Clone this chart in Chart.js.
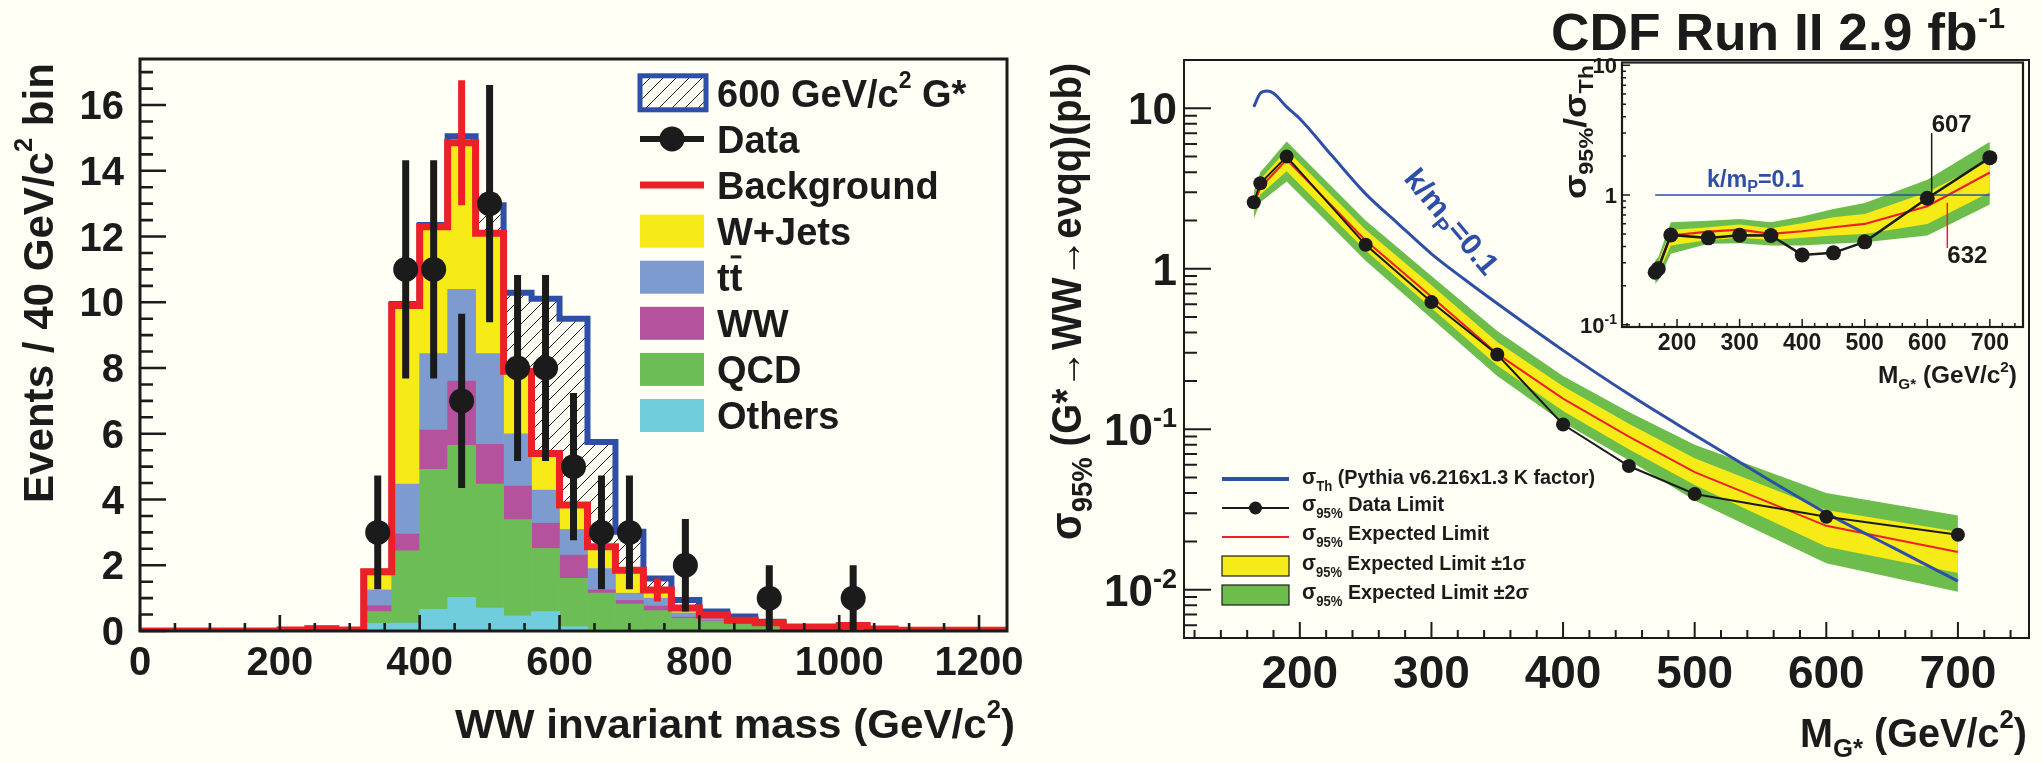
<!DOCTYPE html>
<html><head><meta charset="utf-8"><title>CDF G* to WW search</title>
<script src="https://cdn.jsdelivr.net/npm/chart.js@4.4.1/dist/chart.umd.min.js"></script>
<style>
html,body{margin:0;padding:0;background:#fffff6;}
#wrap{position:relative;width:2042px;height:763px;overflow:hidden;background:#fffff6;}
canvas{position:absolute;display:block;}
</style></head><body>
<div id="wrap">
<canvas id="left" width="1040" height="763" style="left:0;top:0;width:1040px;height:763px"></canvas>
<canvas id="main" width="1002" height="763" style="left:1040px;top:0;width:1002px;height:763px"></canvas>
<canvas id="inset" width="497" height="340" style="left:1545px;top:55px;width:497px;height:340px"></canvas>
</div>
<script>
// ================= LEFT PANEL DATA (WW invariant mass, 40 GeV bins) =================
const binCenters = [20,60,100,140,180,220,260,300,340,380,420,460,500,540,580,620,660,700,740,780,820,860,900,940,980,1020,1060,1100,1140,1180,1220];
const binWidth = 40;
const others = [0,0,0,0,0,0,0,0, 0.23,0.24,0.66,1.02,0.70,0.46,0.59,0.13,0.05,0.05,0.03,0.02,0.01,0.01,0.01, 0,0,0,0,0,0,0,0];
const qcd    = [0,0,0,0,0, 0.02,0.05,0.02, 0.36,2.20,4.26,4.63,3.77,2.93,1.92,1.47,1.10,0.77,0.59,0.36,0.28,0.19,0.14,0.10,0.10,0.12,0.05,0.02,0.02,0.02,0.02];
const ww     = [0,0,0,0,0,0,0,0, 0.18,0.51,1.19,1.95,1.21,1.02,0.77,0.71,0.10,0.11,0.14,0.04,0.02,0.02,0.01, 0,0,0,0,0,0,0,0];
const ttbar  = [0,0,0,0,0, 0.01,0.01,0.01, 0.48,1.52,2.33,2.79,2.76,1.59,1.01,0.78,0.65,0.22,0.24,0.13,0.10,0.06,0.05,0.02,0.02,0.04,0.01, 0,0,0,0];
const wjets  = [0,0,0,0,0, 0,0.01,0, 0.55,5.43,3.86,4.46,3.66,1.90,1.11,0.74,0.66,0.70,0.25,0.15,0.08,0.05,0.04, 0,0,0.01, 0,0,0,0,0];
const gstar600 = [0,0,0,0,0,0,0,0,0, 0.05,0.05,0.20,0.85,2.39,4.71,5.67,3.19,1.17,0.35,0.24,0.10,0.11,0.03, 0,0,0,0,0,0,0,0];
const dataMass   = [340,380,420,460,500,540,580,620,660,700,780,900,1020];
const dataEvents = [3,11,11,7,13,8,8,5,3,3,2,1,1];
const dataErr    = [1.73,3.32,3.32,2.65,3.61,2.83,2.83,2.24,1.73,1.73,1.41,1.0,1.0];
const bkgErrMass = [460,740];
const bkgErr     = [1.9,0.35];
const leftXTicks = [0,200,400,600,800,1000,1200];
const leftYTicks = [0,2,4,6,8,10,12,14,16];

// ================= RIGHT PANEL DATA (cross-section limits) =================
const limMass  = [165,170,190,250,300,350,400,450,500,600,700];
const obsLimit = [2.6,3.41,5.0,1.41,0.62,0.292,0.107,0.059,0.0395,0.0285,0.022];
const expLimit = [2.5,3.2,4.8,1.5,0.67,0.295,0.155,0.09,0.054,0.025,0.0172];
const exp1Lo   = [2.25,2.9,4.05,1.3,0.57,0.25,0.13,0.075,0.045,0.0185,0.0127];
const exp1Hi   = [2.75,3.6,5.5,1.75,0.79,0.35,0.185,0.108,0.066,0.0314,0.023];
const exp2Lo   = [2.05,2.6,3.5,1.12,0.49,0.215,0.11,0.064,0.036,0.0146,0.0097];
const exp2Hi   = [3.0,4.0,6.2,2.0,0.9,0.41,0.215,0.128,0.080,0.040,0.029];
const thMass   = [165,170,175,180,190,200,225,250,275,300,325,350,400,450,500,550,600,650,700];
const thXsec   = [10.2,12.4,12.8,12.4,10.2,8.6,5.0,2.93,1.9,1.24,0.86,0.607,0.31,0.165,0.092,0.052,0.030,0.0184,0.0113];
const rightXTicks = [200,300,400,500,600,700];
const rightYTicks = [0.01,0.1,1,10];

// ================= INSET DATA (ratio to theory) =================
const insObs = [0.254,0.27,0.492,0.467,0.49,0.487,0.345,0.358,0.435,0.943,1.94];
const insExp = [0.262,0.278,0.487,0.522,0.541,0.501,0.525,0.564,0.598,0.818,1.49];
const ins1Lo = [0.232,0.247,0.408,0.45,0.467,0.45,0.467,0.487,0.501,0.598,1.05];
const ins1Hi = [0.286,0.304,0.538,0.564,0.591,0.554,0.605,0.673,0.714,1.05,1.84];
const ins2Lo = [0.207,0.219,0.352,0.42,0.425,0.408,0.408,0.42,0.432,0.487,0.843];
const ins2Hi = [0.313,0.331,0.616,0.634,0.654,0.616,0.681,0.78,0.868,1.31,2.57];
const insThMass = [165,700];
const insThRatio = [1,1];
const insetYTicks = [0.1,1,10];
const crossObs = 607, crossExp = 632;

// ================= STYLE =================
const INK = '#1b1b1b', BG = '#fffff6';
const C = {yellow:'#f6eb16', tt:'#7e9bd0', ww:'#b5529e', qcd:'#6cbd55', oth:'#6fcddd',
           red:'#ee2027', blue:'#2f4ea6', green:'#6cbd4b'};
const FF = '"Liberation Sans", Arial, Helvetica, sans-serif';
function fnt(size, weight){ return (weight || 'bold') + ' ' + size + 'px ' + FF; }
function rich(ctx, segs, x, y, o){
  o = o || {};
  ctx.save();
  const ws = []; let total = 0;
  segs.forEach(s => { ctx.font = fnt(s.size, s.weight || o.weight); const w = ctx.measureText(s.t).width; ws.push(w); total += w; });
  const sx = o.width ? o.width / total : 1;
  ctx.translate(x, y);
  if (o.rot) ctx.rotate(o.rot);
  ctx.scale(sx, 1);
  let cx = o.align === 'right' ? -total : (o.align === 'center' ? -total/2 : 0);
  ctx.fillStyle = o.color || INK; ctx.textAlign = 'left'; ctx.textBaseline = 'alphabetic';
  segs.forEach((s, i) => { ctx.font = fnt(s.size, s.weight || o.weight); ctx.fillText(s.t, cx, s.dy || 0); cx += ws[i]; });
  ctx.restore();
  return total * sx;
}
function logLabel(v, size){
  const e = Math.round(Math.log10(v));
  if (e === 0) return [{t:'1', size}];
  if (e === 1) return [{t:'10', size}];
  return [{t:'10', size}, {t:String(e), size: Math.round(size*0.62), dy: -Math.round(size*0.42)}];
}
function logMinors(min, max){
  const out = [];
  for (let e = -4; e <= 3; e++) for (let m = 2; m <= 9; m++) { const v = m * Math.pow(10, e); if (v > min && v < max) out.push(v); }
  return out;
}
const pts = (xs, ys) => xs.map((x, i) => ({x, y: ys[i]}));

// hatch pattern
function makeHatch(){
  const c = document.createElement('canvas'); c.width = 13; c.height = 13;
  const g = c.getContext('2d');
  g.strokeStyle = '#222'; g.lineWidth = 1;
  g.beginPath(); g.moveTo(-1,14); g.lineTo(14,-1); g.moveTo(-7,7); g.lineTo(7,-7); g.moveTo(6,20); g.lineTo(20,6); g.stroke();
  return g.createPattern(c, 'repeat');
}

// ================= LEFT CHART =================
(function(){
  const ctxL = document.getElementById('left').getContext('2d');
  const hatch = makeHatch();
  const bkgTotal = binCenters.map((_, i) => others[i] + qcd[i] + ww[i] + ttbar[i] + wjets[i]);
  const edgePts = vals => {
    const p = binCenters.map((c, i) => ({x: c - binWidth/2, y: vals[i]}));
    p.push({x: binCenters[binCenters.length-1] + binWidth/2, y: vals[vals.length-1]});
    return p;
  };
  const barDs = (label, arr, color) => ({type:'bar', label, data: binCenters.map((c, i) => ({x: c, y: arr[i] || null})),
    backgroundColor: color, borderWidth: 0, barPercentage: 1, categoryPercentage: 1, yAxisID: 'y', order: 20});
  const errSegs = (xs, ys, es) => { const out = []; xs.forEach((x, i) => { out.push({x, y: ys[i] - es[i]}, {x, y: ys[i] + es[i]}, {x, y: null}); }); return out; };
  const bkgAt = m => bkgTotal[binCenters.indexOf(m)];

  new Chart(ctxL, {
    type: 'bar',
    data: { datasets: [
      barDs('Others', others, C.oth),
      barDs('QCD', qcd, C.qcd),
      barDs('WW', ww, C.ww),
      barDs('tt', ttbar, C.tt),
      barDs('W+Jets', wjets, C.yellow),
      {type:'line', label:'600 GeV/c2 G*', data: edgePts(bkgTotal.map((b, i) => b + gstar600[i])), stepped: true,
        borderColor: C.blue, borderWidth: 6, pointRadius: 0, fill: 6, backgroundColor: hatch, yAxisID: 'y2', order: 6,
        borderJoinStyle: 'miter', borderCapStyle: 'butt'},
      {type:'line', label:'Background', data: edgePts(bkgTotal), stepped: true, borderColor: C.red, borderWidth: 7,
        pointRadius: 0, fill: false, yAxisID: 'y2', order: 5, borderJoinStyle: 'miter', borderCapStyle: 'butt'},
      {type:'line', label:'bkg err', data: errSegs(bkgErrMass, bkgErrMass.map(bkgAt), bkgErr), borderColor: C.red,
        borderWidth: 7, pointRadius: 0, spanGaps: false, fill: false, yAxisID: 'y2', order: 4, borderCapStyle: 'butt'},
      {type:'line', label:'data err', data: errSegs(dataMass, dataEvents, dataErr), borderColor: INK,
        borderWidth: 7, pointRadius: 0, spanGaps: false, fill: false, yAxisID: 'y2', order: 3, borderCapStyle: 'butt'},
      {type:'line', label:'Data', data: pts(dataMass, dataEvents), showLine: false, pointRadius: 12.5,
        pointBackgroundColor: INK, pointBorderWidth: 0, yAxisID: 'y2', order: 2}
    ]},
    options: {
      responsive: false, animation: false, devicePixelRatio: 1, events: [],
      layout: {padding: {left: 140, top: 59, right: 33, bottom: 132}},
      plugins: {legend: {display: false}, tooltip: {enabled: false}},
      scales: {
        x: {type: 'linear', min: 0, max: 1240, stacked: true, offset: false, display: false, ticks: {stepSize: 40}},
        y: {type: 'linear', min: 0, max: 17.4, stacked: true, display: false},
        y2: {type: 'linear', min: 0, max: 17.4, display: false}
      }
    },
    plugins: [{
      id: 'leftDecor',
      afterDraw(chart){
        const ctx = chart.ctx, a = chart.chartArea, X = chart.scales.x, Y = chart.scales.y;
        ctx.save();
        ctx.strokeStyle = INK; ctx.lineWidth = 2.6; ctx.beginPath();
        leftYTicks.forEach(v => { const p = Y.getPixelForValue(v); ctx.moveTo(a.left, p); ctx.lineTo(a.left + 26, p); });
        for (let k = 1; k * 0.5 <= Y.max; k++) { if (k % 4 === 0) continue; const p = Y.getPixelForValue(k*0.5); ctx.moveTo(a.left, p); ctx.lineTo(a.left + 13, p); }
        leftXTicks.forEach(v => { const p = X.getPixelForValue(v); ctx.moveTo(p, a.bottom); ctx.lineTo(p, a.bottom - 16); });
        for (let k = 1; k * 50 < X.max; k++) { if (k % 4 === 0) continue; const p = X.getPixelForValue(k*50); ctx.moveTo(p, a.bottom); ctx.lineTo(p, a.bottom - 8); }
        ctx.stroke();
        ctx.lineWidth = 3; ctx.strokeRect(a.left, a.top, a.right - a.left, a.bottom - a.top);
        ctx.restore();
        leftYTicks.forEach(v => rich(ctx, [{t: String(v), size: 40}], a.left - 16, Y.getPixelForValue(v) + 14, {align: 'right'}));
        leftXTicks.forEach(v => rich(ctx, [{t: String(v), size: 40}], X.getPixelForValue(v), 675, {align: 'center'}));
        rich(ctx, [{t:'WW invariant mass (GeV/c', size: 41}, {t:'2', size: 25, dy: -20}, {t:')', size: 41}], 1015, 738, {align: 'right', width: 560});
        rich(ctx, [{t:'Events / 40 GeV/c', size: 43}, {t:'2', size: 26, dy: -21}, {t:' bin', size: 43}], 53, 63, {align: 'right', rot: -Math.PI/2, width: 440});
        // legend
        const lx = 640, lw = 64, tx = 717;
        const rows = [0,1,2,3,4,5,6,7].map(i => 92.8 + 46.1 * i);
        ctx.save();
        ctx.fillStyle = hatch; ctx.fillRect(lx, rows[0]-17, lw+2, 34);
        ctx.strokeStyle = C.blue; ctx.lineWidth = 5; ctx.strokeRect(lx, rows[0]-17, lw+2, 34);
        ctx.strokeStyle = INK; ctx.lineWidth = 6; ctx.beginPath(); ctx.moveTo(lx, rows[1]); ctx.lineTo(lx+lw, rows[1]); ctx.stroke();
        ctx.fillStyle = INK; ctx.beginPath(); ctx.arc(lx + lw/2, rows[1], 12.5, 0, 2*Math.PI); ctx.fill();
        ctx.strokeStyle = C.red; ctx.lineWidth = 7; ctx.beginPath(); ctx.moveTo(lx, rows[2]); ctx.lineTo(lx+lw, rows[2]); ctx.stroke();
        [C.yellow, C.tt, C.ww, C.qcd, C.oth].forEach((col, i) => { ctx.fillStyle = col; ctx.fillRect(lx, rows[3+i]-16.5, lw, 33); });
        ctx.restore();
        const lab = [
          [{t:'600 GeV/c', size:38}, {t:'2', size:23, dy:-19}, {t:' G*', size:38}],
          [{t:'Data', size:38}], [{t:'Background', size:38}], [{t:'W+Jets', size:38}], [{t:'tt', size:38}],
          [{t:'WW', size:38}], [{t:'QCD', size:38}], [{t:'Others', size:38}]
        ];
        lab.forEach((s, i) => rich(ctx, s, tx, rows[i] + 13.7, {}));
        ctx.save(); ctx.font = fnt(38); const wt = ctx.measureText('t').width;
        ctx.strokeStyle = INK; ctx.lineWidth = 3; ctx.beginPath();
        ctx.moveTo(tx + wt + 1, rows[4] + 13.7 - 34); ctx.lineTo(tx + 2*wt - 1, rows[4] + 13.7 - 34); ctx.stroke(); ctx.restore();
      }
    }]
  });
})();

// ================= MAIN RIGHT CHART =================
(function(){
  const OX = 1040;
  const ctxM = document.getElementById('main').getContext('2d');
  const band = (ys, color, fill, order) => ({data: pts(limMass, ys), fill: fill, backgroundColor: color, borderColor: 'transparent', borderWidth: 0, pointRadius: 0, order});
  new Chart(ctxM, {
    type: 'line',
    data: { datasets: [
      band(exp2Hi, C.green, '+1', 10),
      band(exp2Lo, C.green, false, 10),
      band(exp1Hi, C.yellow, '+1', 9),
      band(exp1Lo, C.yellow, false, 9),
      {label:'Expected', data: pts(limMass, expLimit), borderColor: C.red, borderWidth: 2, pointRadius: 0, fill: false, order: 8},
      {label:'Theory', data: pts(thMass, thXsec), borderColor: C.blue, borderWidth: 3, pointRadius: 0, fill: false, cubicInterpolationMode: 'monotone', order: 7},
      {label:'Observed', data: pts(limMass, obsLimit), borderColor: INK, borderWidth: 2, pointRadius: 7, pointBackgroundColor: INK, pointBorderWidth: 0, fill: false, order: 6}
    ]},
    options: {
      responsive: false, animation: false, devicePixelRatio: 1, events: [],
      layout: {padding: {left: 144, top: 60, right: 13, bottom: 125}},
      plugins: {legend: {display: false}, tooltip: {enabled: false}},
      scales: {
        x: {type: 'linear', min: 112, max: 754, display: false},
        y: {type: 'logarithmic', min: 0.005, max: 20, display: false}
      }
    },
    plugins: [{
      id: 'mainDecor',
      afterDraw(chart){
        const ctx = chart.ctx, a = chart.chartArea, X = chart.scales.x, Y = chart.scales.y;
        ctx.save();
        ctx.strokeStyle = INK; ctx.lineWidth = 2; ctx.beginPath();
        rightYTicks.forEach(v => { const p = Y.getPixelForValue(v); ctx.moveTo(a.left, p); ctx.lineTo(a.left + 27, p); });
        logMinors(Y.min, Y.max).forEach(v => { const p = Y.getPixelForValue(v); ctx.moveTo(a.left, p); ctx.lineTo(a.left + 13, p); });
        rightXTicks.forEach(v => { const p = X.getPixelForValue(v); ctx.moveTo(p, a.bottom); ctx.lineTo(p, a.bottom - 16); });
        for (let v = 120; v < X.max; v += 20) { if (v % 100 === 0) continue; const p = X.getPixelForValue(v); ctx.moveTo(p, a.bottom); ctx.lineTo(p, a.bottom - 8); }
        ctx.stroke();
        ctx.lineWidth = 2; ctx.strokeRect(a.left, a.top, a.right - a.left, a.bottom - a.top);
        ctx.restore();
        rightYTicks.forEach(v => rich(ctx, logLabel(v, 44), a.left - 7, Y.getPixelForValue(v) + 16, {align: 'right'}));
        rightXTicks.forEach(v => rich(ctx, [{t: String(v), size: 46}], X.getPixelForValue(v), 688, {align: 'center'}));
        // title
        rich(ctx, [{t:'CDF Run II 2.9 fb', size: 52}, {t:'-1', size: 30, dy: -22}], 1551 - OX, 50, {width: 454});
        // axis titles
        rich(ctx, [{t:'M', size: 40}, {t:'G*', size: 26, dy: 10}, {t:' (GeV/c', size: 40}, {t:'2', size: 26, dy: -19}, {t:')', size: 40}], 2027 - OX, 747, {align: 'right', width: 227});
        rich(ctx, [{t:'\u03c3', size: 44}, {t:'95%', size: 30, dy: 11}, {t:' (G*\u2192WW\u2192e\u03bdqq)(pb)', size: 42}], 1081 - OX, 63, {align: 'right', rot: -Math.PI/2, width: 477});
        // curve label
        rich(ctx, [{t:'k/m', size: 30}, {t:'P', size: 21, dy: 8}, {t:'=0.1', size: 30}], 1444 - OX, 228, {align: 'center', rot: 50 * Math.PI/180, color: C.blue, width: 128});
        // legend
        const sx0 = 1222 - OX, sx1 = 1289 - OX, tx = 1302 - OX;
        const cy = [479, 508, 537, 566, 595];
        ctx.save();
        ctx.lineCap = 'butt';
        ctx.strokeStyle = C.blue; ctx.lineWidth = 4; ctx.beginPath(); ctx.moveTo(sx0, cy[0]); ctx.lineTo(sx1, cy[0]); ctx.stroke();
        ctx.strokeStyle = INK; ctx.lineWidth = 2; ctx.beginPath(); ctx.moveTo(sx0, cy[1]); ctx.lineTo(sx1, cy[1]); ctx.stroke();
        ctx.fillStyle = INK; ctx.beginPath(); ctx.arc((sx0 + sx1)/2, cy[1], 6.5, 0, 2*Math.PI); ctx.fill();
        ctx.strokeStyle = C.red; ctx.lineWidth = 2; ctx.beginPath(); ctx.moveTo(sx0, cy[2]); ctx.lineTo(sx1, cy[2]); ctx.stroke();
        ctx.fillStyle = C.yellow; ctx.fillRect(sx0, cy[3] - 10, sx1 - sx0, 20);
        ctx.fillStyle = C.green; ctx.fillRect(sx0, cy[4] - 10, sx1 - sx0, 20);
        ctx.strokeStyle = INK; ctx.lineWidth = 1.2; ctx.strokeRect(sx0, cy[3] - 10, sx1 - sx0, 20); ctx.strokeRect(sx0, cy[4] - 10, sx1 - sx0, 20);
        ctx.restore();
        const sig = sub => [{t:'\u03c3', size: 22}, {t: sub, size: 14, dy: 7}];
        rich(ctx, sig('Th').concat([{t:' (Pythia v6.216x1.3 K factor)', size: 21}]), tx, 484, {width: 293});
        rich(ctx, sig('95%').concat([{t:' Data Limit', size: 21}]), tx, 511, {width: 142});
        rich(ctx, sig('95%').concat([{t:' Expected Limit', size: 21}]), tx, 540, {width: 187});
        rich(ctx, sig('95%').concat([{t:' Expected Limit \u00b11\u03c3', size: 21}]), tx, 570, {width: 224});
        rich(ctx, sig('95%').concat([{t:' Expected Limit \u00b12\u03c3', size: 21}]), tx, 599, {width: 227});
      }
    }]
  });
})();

// ================= INSET CHART =================
(function(){
  const OX = 1545, OY = 55;
  const ctxI = document.getElementById('inset').getContext('2d');
  const band = (ys, color, fill, order) => ({data: pts(limMass, ys), fill: fill, backgroundColor: color, borderColor: 'transparent', borderWidth: 0, pointRadius: 0, order});
  new Chart(ctxI, {
    type: 'line',
    data: { datasets: [
      band(ins2Hi, C.green, '+1', 10),
      band(ins2Lo, C.green, false, 10),
      band(ins1Hi, C.yellow, '+1', 9),
      band(ins1Lo, C.yellow, false, 9),
      {label:'Expected', data: pts(limMass, insExp), borderColor: C.red, borderWidth: 2.2, pointRadius: 0, fill: false, order: 8},
      {label:'Theory', data: pts(insThMass, insThRatio), borderColor: C.blue, borderWidth: 1.6, pointRadius: 0, fill: false, order: 7},
      {label:'Observed', data: pts(limMass, insObs), borderColor: INK, borderWidth: 2.5, pointRadius: 7.5, pointBackgroundColor: INK, pointBorderWidth: 0, fill: false, order: 6}
    ]},
    options: {
      responsive: false, animation: false, devicePixelRatio: 1, events: [],
      layout: {padding: {left: 77, top: 7, right: 19, bottom: 68}},
      plugins: {legend: {display: false}, tooltip: {enabled: false}},
      scales: {
        x: {type: 'linear', min: 112, max: 753, display: false},
        y: {type: 'logarithmic', min: 0.096, max: 10.5, display: false}
      }
    },
    plugins: [{
      id: 'insetDecor',
      beforeDraw(chart){
        const ctx = chart.ctx, a = chart.chartArea;
        ctx.save(); ctx.fillStyle = BG; ctx.fillRect(a.left, a.top, a.right - a.left, a.bottom - a.top); ctx.restore();
      },
      afterDraw(chart){
        const ctx = chart.ctx, a = chart.chartArea, X = chart.scales.x, Y = chart.scales.y;
        ctx.save();
        ctx.strokeStyle = INK; ctx.lineWidth = 1.5; ctx.beginPath();
        insetYTicks.forEach(v => { const p = Y.getPixelForValue(v); ctx.moveTo(a.left, p); ctx.lineTo(a.left + 8, p); });
        logMinors(Y.min, Y.max).forEach(v => { const p = Y.getPixelForValue(v); ctx.moveTo(a.left, p); ctx.lineTo(a.left + 4, p); });
        rightXTicks.forEach(v => { const p = X.getPixelForValue(v); ctx.moveTo(p, a.bottom); ctx.lineTo(p, a.bottom - 8); });
        for (let v = 120; v < X.max; v += 20) { if (v % 100 === 0) continue; const p = X.getPixelForValue(v); ctx.moveTo(p, a.bottom); ctx.lineTo(p, a.bottom - 4); }
        ctx.stroke();
        ctx.lineWidth = 2.2; ctx.strokeRect(a.left, a.top, a.right - a.left, a.bottom - a.top);
        // crossing annotations
        ctx.lineWidth = 1.5; ctx.strokeStyle = INK; ctx.beginPath();
        ctx.moveTo(X.getPixelForValue(crossObs), Y.getPixelForValue(1.0)); ctx.lineTo(X.getPixelForValue(crossObs), Y.getPixelForValue(3.0)); ctx.stroke();
        ctx.strokeStyle = C.red; ctx.beginPath();
        ctx.moveTo(X.getPixelForValue(crossExp), Y.getPixelForValue(0.87)); ctx.lineTo(X.getPixelForValue(crossExp), Y.getPixelForValue(0.39)); ctx.stroke();
        ctx.restore();
        rich(ctx, [{t: String(crossObs), size: 24}], X.getPixelForValue(crossObs), 132 - OY, {});
        rich(ctx, [{t: String(crossExp), size: 24}], X.getPixelForValue(crossExp), 263 - OY, {});
        insetYTicks.forEach(v => rich(ctx, logLabel(v, 22), a.left - 5, Y.getPixelForValue(v) + 8, {align: 'right'}));
        rightXTicks.forEach(v => rich(ctx, [{t: String(v), size: 23}], X.getPixelForValue(v), 350 - OY, {align: 'center'}));
        rich(ctx, [{t:'M', size: 24}, {t:'G*', size: 15, dy: 6}, {t:' (GeV/c', size: 24}, {t:'2', size: 15, dy: -11}, {t:')', size: 24}], 2017 - OX, 383 - OY, {align: 'right', width: 139});
        rich(ctx, [{t:'\u03c3', size: 32}, {t:'95%', size: 21, dy: 7}, {t:'/', size: 32}, {t:'\u03c3', size: 32}, {t:'Th', size: 21, dy: 7}], 1586 - OX, 65 - OY, {align: 'right', rot: -Math.PI/2, width: 134});
        rich(ctx, [{t:'k/m', size: 23}, {t:'P', size: 16, dy: 5}, {t:'=0.1', size: 23}], 1707 - OX, 187 - OY, {color: C.blue, width: 97});
      }
    }]
  });
})();
</script>
</body></html>
